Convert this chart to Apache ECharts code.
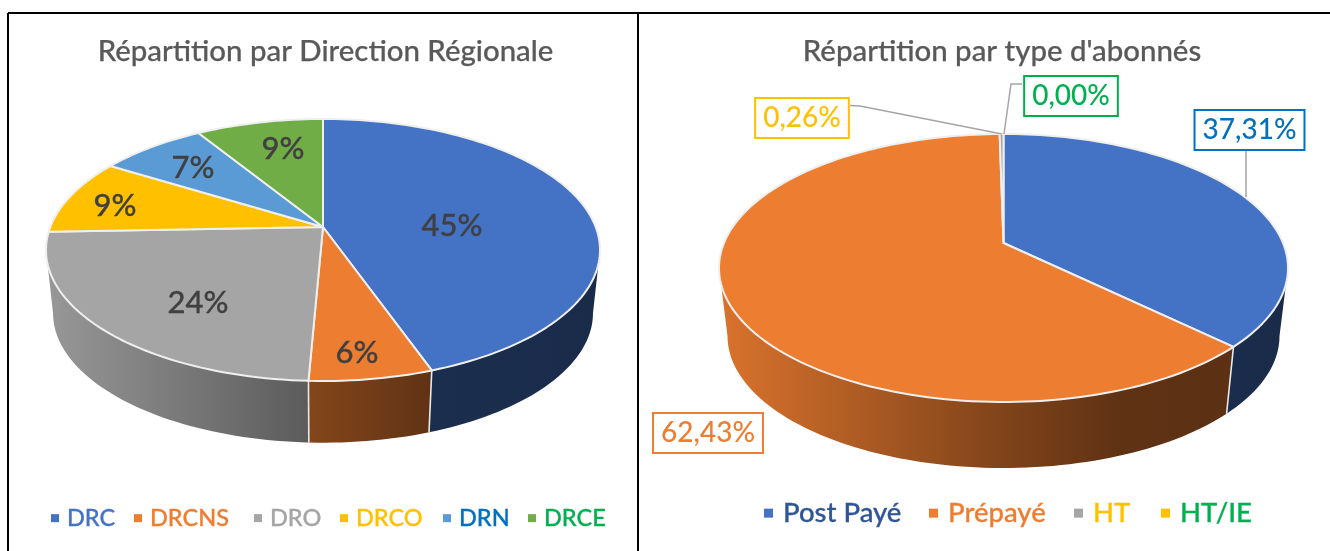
<!DOCTYPE html>
<html><head><meta charset="utf-8">
<style>html,body{margin:0;padding:0;background:#fff}#c{width:1330px;height:551px}</style>
<script src="https://cdn.jsdelivr.net/npm/echarts@6/dist/echarts.min.js"></script>
</head><body><div id="c"></div>
<script>
// ---- data ----
const regionNames  = ['DRC','DRCNS','DRO','DRCO','DRN','DRCE'];
const regionValues = [44.6,6.1,23.7,9.4,7.4,8.8];
const typeNames    = ['Post Payé','Prépayé','HT','HT/IE'];
const typeValues   = [37.31,62.43,0.26,0.00];
// ---- styles / layout ----
const FONT='Lato';
const regionColors = ['#4472c4','#ed7d31','#a5a5a5','#ffc000','#5b9bd5','#70ad47'];
const typeColors   = ['#4472c4','#ed7d31','#a5a5a5','#ffc000'];
const regionLegendText = ['#4472c4','#ed7d31','#a5a5a5','#ffc000','#0070c0','#00b050'];
const typeLegendText   = ['#2f5597','#ed7d31','#ffc000','#00b050'];
const regionLegendX = [51,134,254,340,443,528];
const typeLegendX   = [764,929,1074,1161];
const regionLabelAt = [[452,226],[357,353],[198,303],[115,206],[193,168],[283,149]];
const typeBoxAt     = [[1249.5,130],[708,433],[802,118],[1071,96]];
const typeBoxColor  = ['#0070c0','#ed7d31','#ffc000','#00b050'];
const typeLeaders   = [[[1246,151],[1246,197]],null,[[850,105.5],[860,106],[1002,134]],[[1022,84],[1011,84],[1004,134]]];
const geoLeft  = {left:46,right:600,top:119,bottom:381,apexY:227,depth:63,kx:270/277,ky:0.99};
const geoRight = {left:719,right:1288,top:134,bottom:402,apexY:243,depth:68,kx:276/284.5,ky:0.985};

function makeGeo(g){
  const cx=(g.left+g.right)/2, ey=(g.top+g.bottom)/2, rx=(g.right-g.left)/2, B=g.apexY;
  const c=(2*B-g.top-g.bottom)/(g.bottom-g.top), A=g.bottom*(1+c)-B, s=rx*Math.sqrt(1-c*c);
  const pt=deg=>{const t=deg*Math.PI/180,u=Math.sin(t),v=-Math.cos(t),d=1+c*v;return [cx+s*u/d,(A*v+B)/d];};
  const low=p=>[cx+(p[0]-cx)*g.kx, ey+(p[1]-ey)*g.ky+g.depth];
  const front=Math.acos(c)*180/Math.PI;
  return {cx,apex:[cx,B],pt,low,f0:front,f1:360-front,x0:g.left,x1:g.right};
}
function shade(hex,f){const n=parseInt(hex.slice(1),16);
  return 'rgb('+[n>>16,(n>>8)&255,n&255].map(v=>Math.round(v*f)).join(',')+')';}
function arc(G,a,b){const n=Math.max(2,Math.ceil(Math.abs(b-a)/1.5)),o=[];
  for(let i=0;i<=n;i++)o.push(G.pt(a+(b-a)*i/n));return o;}

function pieSeries(names,values,colors,geo,labelFn){
  const G=makeGeo(geo), total=values.reduce((a,b)=>a+b,0);
  let acc=0;
  return names.map((name,i)=>{
    const startV=acc; acc+=values[i];
    return {type:'custom',name,coordinateSystem:'none',silent:true,animation:false,
      itemStyle:{color:colors[i]},data:[[values[i]]],
      renderItem(params,api){
        const a=startV/total*360,b=a+api.value(0)/total*360,kids=[];
        if(b>a){
          const p0=Math.max(a,G.f0),p1=Math.min(b,G.f1);
          if(p1>p0){
            const t=arc(G,p0,p1),bot=t.map(G.low).reverse();
            kids.push({type:'polygon',z2:1,shape:{points:t.concat(bot)},style:{
              lineWidth:0,fill:{type:'linear',global:true,x:G.x0,y:0,x2:G.x1,y2:0,colorStops:[
                {offset:0,color:shade(colors[i],.92)},{offset:.47,color:shade(colors[i],.56)},
                {offset:.7,color:shade(colors[i],.40)},{offset:1,color:shade(colors[i],.38)}]}}});
            if(a>=G.f0&&a<=G.f1){const q=G.pt(a);
              kids.push({type:'line',z2:2,shape:{x1:q[0],y1:q[1],x2:G.low(q)[0],y2:G.low(q)[1]},style:{stroke:'#e8e8e8',lineWidth:1.6}});}
          }
          kids.push({type:'polygon',z2:5,shape:{points:[G.apex].concat(arc(G,a,b))},
            style:{fill:colors[i],stroke:'#efefef',lineWidth:2,lineJoin:'round'}});
        }
        labelFn(i,api.value(0)/total*100,kids);
        return {type:'group',children:kids};
      }};
  });
}
function regionLabel(i,pct,kids){
  kids.push({type:'text',z2:20,x:regionLabelAt[i][0],y:regionLabelAt[i][1],style:{
    text:Math.round(pct)+'%',fill:'#404040',stroke:'#404040',lineWidth:0.3,font:'500 31px '+FONT,align:'center',verticalAlign:'middle'}});
}
function typeLabel(i,pct,kids){
  const L=typeLeaders[i];
  if(L)kids.push({type:'polyline',z2:15,shape:{points:L},style:{stroke:'#a5a5a5',lineWidth:1.5,fill:'none'}});
  kids.push({type:'text',z2:20,x:typeBoxAt[i][0],y:typeBoxAt[i][1],style:{
    text:pct.toFixed(2).replace('.',',')+'%',fill:typeBoxColor[i],font:'500 28px '+FONT,align:'center',verticalAlign:'middle',
    backgroundColor:'#fff',borderColor:typeBoxColor[i],borderWidth:2,padding:[5,7,5,7]}});
}
function legends(names,colors,textColors,xs,top,size,mark,gap){
  return names.map((n,i)=>({show:true,left:xs[i],top,padding:0,selectedMode:false,itemWidth:mark,itemHeight:mark,icon:'rect',
    data:[{name:n,itemStyle:{color:colors[i]},textStyle:{color:textColors[i],textBorderColor:textColors[i],textBorderWidth:0.3}}],
    textStyle:{fontFamily:FONT,fontSize:size,fontWeight:500,padding:[0,0,0,gap]}}));
}
const frame=[[8,13,8,551],[638,13,638,551],[8,13,1330,13]].map(l=>({type:'line',silent:true,
  shape:{x1:l[0],y1:l[1],x2:l[2],y2:l[3]},style:{stroke:'#000',lineWidth:2}}));
const titleStyle={fontFamily:FONT,fontSize:29.4,fontWeight:500,color:'#595959',textBorderColor:'#595959',textBorderWidth:0.25};
const chart=echarts.init(document.getElementById('c'),null,{renderer:'canvas'});
chart.setOption({
  backgroundColor:'#fff',animation:false,tooltip:{show:false},
  title:[{text:'Répartition par Direction Régionale',left:325.5,top:37,textAlign:'center',padding:0,textStyle:titleStyle},
         {text:"Répartition par type d'abonnés",left:1002,top:37,textAlign:'center',padding:0,textStyle:titleStyle}],
  legend:legends(regionNames,regionColors,regionLegendText,regionLegendX,506,23.5,8,3)
    .concat(legends(typeNames,typeColors,typeLegendText,typeLegendX,499,27.5,9,5)),
  graphic:{elements:frame},
  series:pieSeries(regionNames,regionValues,regionColors,geoLeft,regionLabel)
    .concat(pieSeries(typeNames,typeValues,typeColors,geoRight,typeLabel))
});
</script></body></html>
